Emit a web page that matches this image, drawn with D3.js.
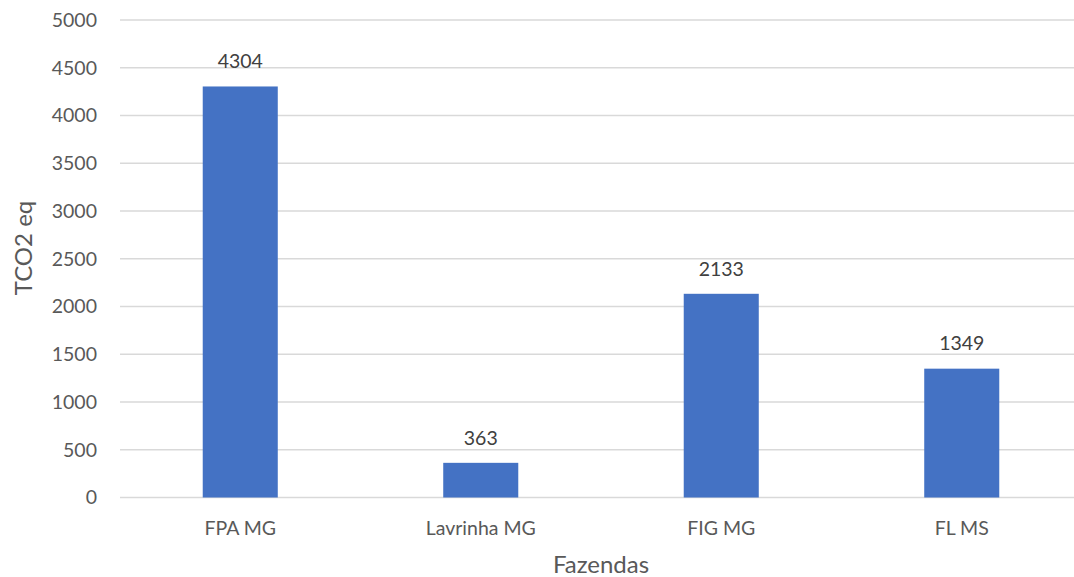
<!DOCTYPE html>
<html><head><meta charset="utf-8">
<script src="https://cdn.jsdelivr.net/npm/d3@7"></script>
<style>body{margin:0;background:#fff}text{font-family:Lato,"Open Sans",sans-serif}</style>
</head><body>
<svg id="c" width="1074" height="577"></svg>
<script>
const categories = ["FPA MG","Lavrinha MG","FIG MG","FL MS"];
const values = [4304,363,2133,1349];
const yTicks = [0,500,1000,1500,2000,2500,3000,3500,4000,4500,5000];

const svg = d3.select("#c");
const x = d3.scaleBand().domain(categories).range([120,1082]).paddingInner(0.688).paddingOuter(0.344);
const y = d3.scaleLinear().domain([0,5000]).range([497.5,20]);

svg.append("g").selectAll("line").data(yTicks).join("line")
  .attr("x1",120).attr("x2",1074).attr("y1",d=>y(d)).attr("y2",d=>y(d))
  .attr("stroke","#d9d9d9").attr("stroke-width",1.3);

svg.append("g").selectAll("text").data(yTicks).join("text")
  .attr("x",97).attr("y",d=>y(d)).attr("dy","0.35em").attr("text-anchor","end")
  .attr("fill","#595959").attr("font-size",19.5).text(d=>d);

svg.append("g").selectAll("rect").data(values).join("rect")
  .attr("x",(d,i)=>x(categories[i])).attr("width",x.bandwidth())
  .attr("y",d=>y(d)).attr("height",d=>y(0)-y(d)).attr("fill","#4472c4");

svg.append("g").selectAll("text").data(values).join("text")
  .attr("x",(d,i)=>x(categories[i])+x.bandwidth()/2).attr("y",d=>y(d)-25).attr("dy","0.35em")
  .attr("text-anchor","middle").attr("fill","#404040").attr("font-size",19.5).text(d=>d);

svg.append("g").selectAll("text").data(categories).join("text")
  .attr("x",d=>x(d)+x.bandwidth()/2).attr("y",528).attr("dy","0.35em")
  .attr("text-anchor","middle").attr("fill","#595959").attr("font-size",19.5).text(d=>d);

svg.append("text").attr("transform","translate(24,248) rotate(-90)").attr("dy","0.35em")
  .attr("text-anchor","middle").attr("fill","#595959").attr("font-size",24).text("TCO2 eq");
svg.append("text").attr("x",601).attr("y",565).attr("dy","0.35em")
  .attr("text-anchor","middle").attr("fill","#595959").attr("font-size",24).text("Fazendas");
</script>
</body></html>
